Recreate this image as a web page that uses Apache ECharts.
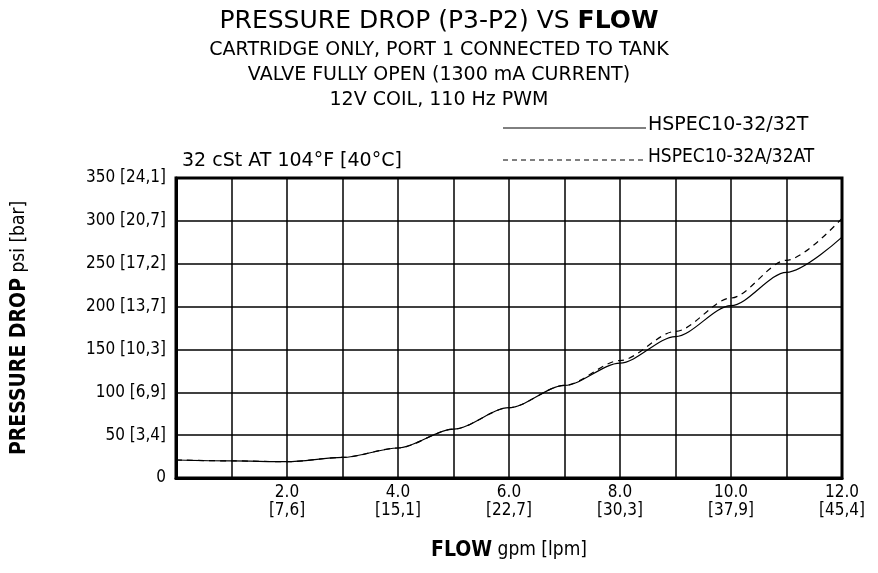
<!DOCTYPE html>
<html style="height: 100%">
<head>
<meta charset="utf-8">
<script src="https://cdn.jsdelivr.net/npm/echarts@6/dist/echarts.min.js"></script>
</head>
<body style="height: 100%; margin: 0; background: #fff">
<div id="container" style="width: 878px; height: 573px"></div>
<script>
// flow in gpm, pressure drop in psi
var flow = [0, 1, 2, 3, 4, 5, 6, 7, 8, 9, 10, 11, 12];
var dropSolid = [21, 20, 19, 24, 35, 57, 82, 108, 134, 165, 201, 240, 281];
var dropDashed = [21, 20, 19, 24, 35, 57, 82, 108, 137, 171, 210, 254, 303];
var xLpm = {2: '7,6', 4: '15,1', 6: '22,7', 8: '30,3', 10: '37,9', 12: '45,4'};
var yBar = {50: '3,4', 100: '6,9', 150: '10,3', 200: '13,7', 250: '17,2', 300: '20,7', 350: '24,1'};

var font = 'Liberation Sans Narrow, DejaVu Sans Condensed, sans-serif';
var wide = 'DejaVu Sans, sans-serif';
function pairs(ys) { return flow.map(function (x, i) { return [x, ys[i]]; }); }

var chart = echarts.init(document.getElementById('container'));
chart.setOption({
    animation: false,
    textStyle: { fontFamily: font, color: '#000' },
    title: {
        left: 'center', top: 4, itemGap: 4,
        text: 'PRESSURE DROP (P3-P2) VS {b|FLOW}',
        textStyle: { fontSize: 25, color: '#000', fontWeight: 'normal', fontFamily: wide,
            rich: { b: { fontSize: 25, color: '#000', fontWeight: 'bold', fontFamily: wide } } },
        subtext: 'CARTRIDGE ONLY, PORT 1 CONNECTED TO TANK\nVALVE FULLY OPEN (1300 mA CURRENT)\n12V COIL, 110 Hz PWM',
        subtextStyle: { fontSize: 19, color: '#000', lineHeight: 25, fontFamily: wide }
    },
    grid: { left: 176, right: 36, top: 178, bottom: 95 },
    xAxis: {
        type: 'value', min: 0, max: 12, interval: 1,
        name: '{b|FLOW} gpm [lpm]', nameLocation: 'middle', nameGap: 62,
        nameTextStyle: { fontSize: 19, rich: { b: { fontSize: 21, fontWeight: 'bold', fontFamily: font } } },
        axisLine: { lineStyle: { color: '#000', width: 3 } },
        axisTick: { show: false },
        splitLine: { lineStyle: { color: '#000', width: 1.5 } },
        axisLabel: { fontSize: 17, color: '#000', lineHeight: 18, margin: 6,
            formatter: function (v) { return xLpm[v] ? v.toFixed(1) + '\n[' + xLpm[v] + ']' : ''; } }
    },
    yAxis: {
        type: 'value', min: 0, max: 350, interval: 50,
        name: '{b|PRESSURE DROP} psi [bar]', nameLocation: 'middle', nameGap: 146,
        nameTextStyle: { fontSize: 19, rich: { b: { fontSize: 21, fontWeight: 'bold', fontFamily: font } } },
        axisLine: { lineStyle: { color: '#000', width: 3 } },
        axisTick: { show: false },
        splitLine: { lineStyle: { color: '#000', width: 1.5 } },
        axisLabel: { fontSize: 17, color: '#000', margin: 10,
            formatter: function (v) { return yBar[v] ? v + ' [' + yBar[v] + ']' : '' + v; } }
    },
    graphic: [
        { type: 'rect', shape: { x: 176, y: 178, width: 666, height: 300 }, style: { fill: 'none', stroke: '#000', lineWidth: 3 }, z: 100 },
        { type: 'line', shape: { x1: 503, y1: 128, x2: 646, y2: 128 }, style: { stroke: '#000', lineWidth: 1 } },
        { type: 'text', left: 648, top: 116, style: { text: 'HSPEC10-32/32T', font: '19px ' + wide, fill: '#000' } },
        { type: 'line', shape: { x1: 503, y1: 160, x2: 646, y2: 160 }, style: { stroke: '#000', lineWidth: 1, lineDash: [5, 4] } },
        { type: 'text', left: 648, top: 148, style: { text: 'HSPEC10-32A/32AT', font: '19px ' + font, fill: '#000' } },
        { type: 'text', left: 182, top: 152, style: { text: '32 cSt AT 104°F [40°C]', font: '19px ' + wide, fill: '#000' } }
    ],
    series: [
        { type: 'line', name: 'HSPEC10-32/32T', data: pairs(dropSolid), smooth: 0.3, smoothMonotone: 'x', showSymbol: false,
          lineStyle: { color: '#000', width: 1.2 } },
        { type: 'line', name: 'HSPEC10-32A/32AT', data: pairs(dropDashed), smooth: 0.3, smoothMonotone: 'x', showSymbol: false,
          lineStyle: { color: '#000', width: 1.2, type: [6, 5] } }
    ]
});
</script>
</body>
</html>
